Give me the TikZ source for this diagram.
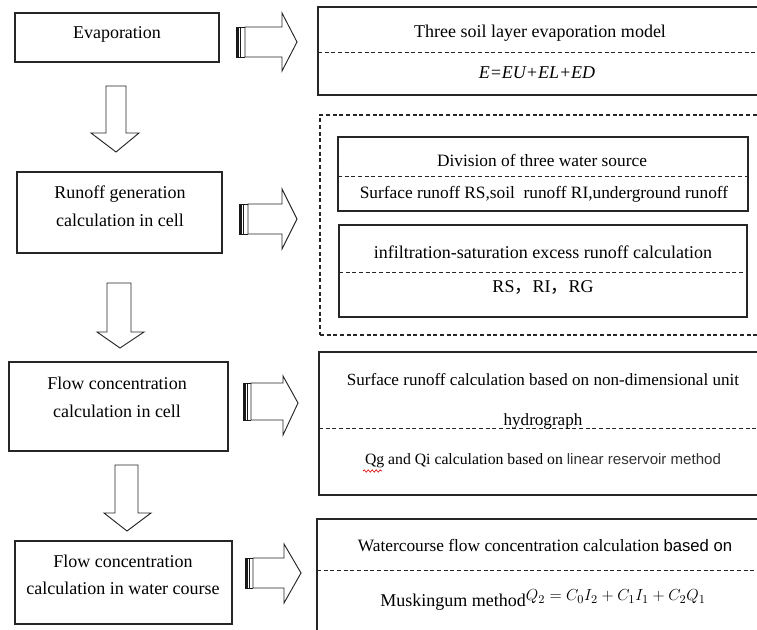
\documentclass[tikz,border=0pt]{standalone}
\usepackage{fontspec}
\setmainfont{Liberation Serif}
\newfontfamily\arialf{Liberation Sans}
\newfontfamily\cjkf{Noto Sans CJK SC}
\usetikzlibrary{fit,decorations.pathmorphing}
\begin{document}
\begin{tikzpicture}[x=0.75pt,y=-0.75pt,
  box/.style={draw=black!85, line width=0.8pt, rectangle, inner sep=0pt},
  dbox/.style={draw=black!85, line width=0.8pt, rectangle, inner sep=0pt, dash pattern=on 3pt off 2pt},
  dline/.style={draw=black!85, line width=0.7pt, dash pattern=on 3pt off 2pt},
  txt/.style={font=\fontsize{13.5}{16}\selectfont, inner sep=0pt, align=center, text=black},
  stxt/.style={font=\fontsize{13}{15}\selectfont, inner sep=0pt, align=center, text=black},
  xtxt/.style={font=\fontsize{11.8}{14}\selectfont, inner sep=0pt, align=center, text=black},
  blk/.style={draw=black!85, line width=0.7pt, fill=white, line join=miter}
]
\useasboundingbox (0,0) rectangle (757,630);
\clip (0,0) rectangle (757,630);
\fill[white] (0,0) rectangle (757,630);

% ---------- left boxes ----------
\coordinate (a1) at (15,13);  \coordinate (a2) at (219,62);
\node[box, fit=(a1)(a2)] (b1) {};
\node[txt] (t1) at (117,34) {Evaporation};

\coordinate (c1) at (17,172); \coordinate (c2) at (222,253);
\node[box, fit=(c1)(c2)] (b2) {};
\node[txt, font=\fontsize{13.5}{21}\selectfont] (t2) at (120,206) {Runoff generation\\calculation in cell};

\coordinate (e1) at (9,362);  \coordinate (e2) at (228,451);
\node[box, fit=(e1)(e2)] (b3) {};
\node[txt, font=\fontsize{13.5}{21}\selectfont] (t3) at (117,397) {Flow concentration\\calculation in cell};

\coordinate (g1) at (15,541); \coordinate (g2) at (232,624);
\node[box, fit=(g1)(g2)] (b4) {};
\node[txt, font=\fontsize{13.5}{20}\selectfont] (t4) at (123,575) {Flow concentration\\calculation in water course};

% ---------- down block arrows ----------
\newcommand{\downarr}[7]{% L R T H HL HR tipx tipy
  \draw[blk] (#1,#3) -- (#2,#3) -- (#2,#4) -- (#6,#4) -- (#7) -- (#5,#4) -- (#1,#4) -- cycle;}
\downarr{106}{126}{86}{133}{91}{139}{116,152}
\downarr{107}{131}{283}{332}{97}{144}{120,348}
\downarr{115}{138}{465}{513}{104}{151}{127,531}

% ---------- right striped block arrows ----------
\newcommand{\rightarr}[9]{% S shaftstart HX TX Y1 Y2 HY1 HY2 tipY
  \draw[blk] (#2,#5) -- (#3,#5) -- (#3,#7) -- (#4,#9) -- (#3,#8) -- (#3,#6) -- (#2,#6) -- cycle;
  \fill[black!90] (#1,#5) rectangle ({#1+2.6},#6);
  \draw[black!90, line width=0.8pt] ({#1+4.6},#5) -- ({#1+4.6},#6);
  \draw[black!90, line width=0.6pt] (#1,#5) -- (#2,#5) (#1,#6) -- (#2,#6);}
\rightarr{236}{245}{282}{297}{27}{57}{13}{71}{42}
\rightarr{239}{248}{282}{297}{204}{234}{189}{249}{219}
\rightarr{243}{251}{283}{298}{383}{420}{376}{435}{403}
\rightarr{245}{253}{284}{301}{558}{588}{544}{603}{573}

% ---------- right box 1 ----------
\coordinate (r1a) at (318,7); \coordinate (r1b) at (775,95);
\node[box, fit=(r1a)(r1b)] (R1) {};
\draw[dline] (318,52) -- (775,52);
\node[txt] (R1t) at (540,33) {Three soil layer evaporation model};
\node[txt] (R1f) at (537,73) {\itshape E=EU+EL+ED};

% ---------- dashed group ----------
\coordinate (da) at (320,115); \coordinate (db) at (775,335);
\node[dbox, fit=(da)(db)] (D) {};

\coordinate (i1a) at (338,137); \coordinate (i1b) at (748,211);
\node[box, fit=(i1a)(i1b)] (I1) {};
\draw[dline] (338,176) -- (748,176);
\node[stxt] (I1t) at (542,160) {Division of three water source};
\node[stxt] (I1s) at (544,194) {Surface runoff RS,soil\ \ runoff RI,underground runoff};

\coordinate (i2a) at (339,225); \coordinate (i2b) at (747,317);
\node[box, fit=(i2a)(i2b)] (I2) {};
\draw[dline] (339,272) -- (747,272);
\node[txt] (I2t) at (543,252) {infiltration-saturation excess runoff calculation};
\node[txt] (I2s) at (543,288) {RS{\cjkf ，}RI{\cjkf ，}RG};

% ---------- right box 3 ----------
\coordinate (r3a) at (319,352); \coordinate (r3b) at (775,495);
\node[box, fit=(r3a)(r3b)] (R3) {};
\draw[dline] (319,428) -- (775,428);
\node[xtxt, font=\fontsize{12.8}{15}\selectfont] (R3t) at (543,380) {Surface runoff calculation based on non-dimensional unit};
\node[xtxt, font=\fontsize{12.8}{15}\selectfont] (R3u) at (543,421) {hydrograph};
\node[xtxt] (R3s) at (543,461) {Qg and Qi calculation based on {\arialf\fontsize{11.3}{14}\selectfont\color{black!80} linear reservoir method}};
\draw[red!85!black, line width=0.5pt, decorate, decoration={snake, amplitude=0.8pt, segment length=3pt}] (363,471) -- (382,471);

% ---------- right box 4 ----------
\coordinate (r4a) at (317,519); \coordinate (r4b) at (775,645);
\node[box, fit=(r4a)(r4b)] (R4) {};
\draw[dline] (317,570) -- (775,570);
\node[xtxt, font=\fontsize{13}{15}\selectfont] (R4t) at (545,546) {Watercourse flow concentration calculation {\arialf\fontsize{12.5}{15}\selectfont based on}};
\node[txt] (R4s) at (543,600) {Muskingum method\raisebox{4pt}{\fontsize{12.3}{14}\selectfont$Q_2=C_0I_2+C_1I_1+C_2Q_1$}};
\end{tikzpicture}
\end{document}
